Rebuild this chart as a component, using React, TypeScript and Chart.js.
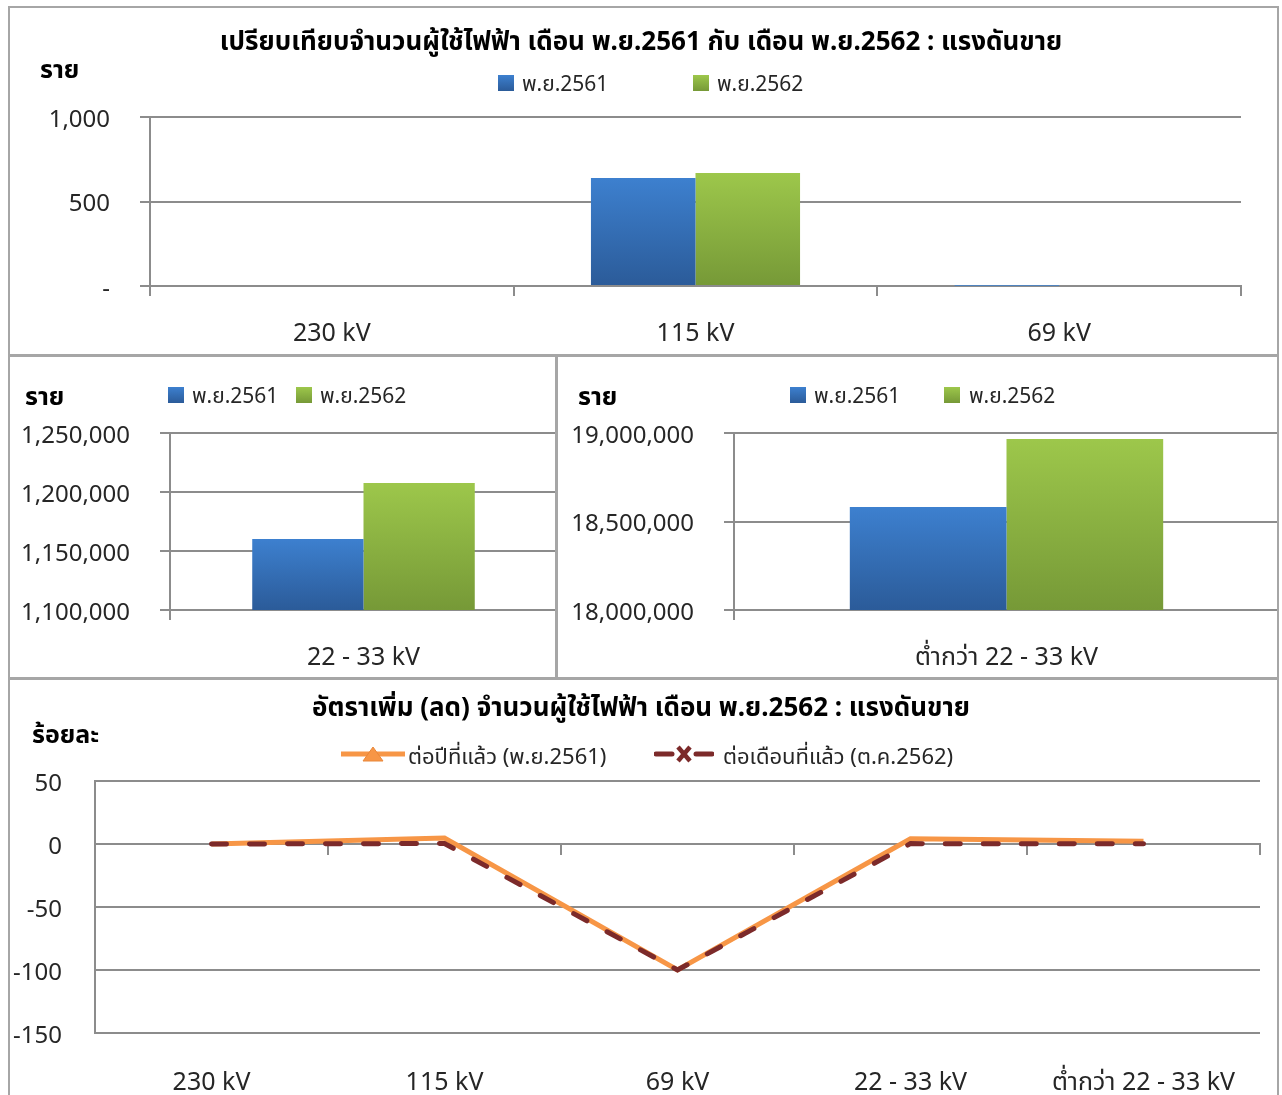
import React, { useEffect, useRef } from 'react';
import { Chart, registerables } from 'chart.js';

Chart.register(...registerables);

// ---------------- DATA ----------------
const seriesNames = ['พ.ย.2561', 'พ.ย.2562'];

const hvCategories = ['230 kV', '115 kV', '69 kV'];
const hvNov2561 = [0, 639, 1];
const hvNov2562 = [0, 669, 0];

const mvCategories = ['22 - 33 kV'];
const mvNov2561 = [1160200];
const mvNov2562 = [1207600];

const lvCategories = ['ต่ำกว่า 22 - 33 kV'];
const lvNov2561 = [18582000];
const lvNov2562 = [18966000];

const growthCategories = ['230 kV', '115 kV', '69 kV', '22 - 33 kV', 'ต่ำกว่า 22 - 33 kV'];
const growthNames = ['ต่อปีที่แล้ว (พ.ย.2561)', 'ต่อเดือนที่แล้ว (ต.ค.2562)'];
const growthYoY = [0, 4.7, -100, 4.1, 2.1];
const growthMoM = [0, 0.4, -100, 0.3, 0.2];

const titleTop = 'เปรียบเทียบจำนวนผู้ใช้ไฟฟ้า เดือน พ.ย.2561 กับ เดือน พ.ย.2562 : แรงดันขาย';
const titleBottom = 'อัตราเพิ่ม (ลด) จำนวนผู้ใช้ไฟฟ้า เดือน พ.ย.2562 : แรงดันขาย';
const unitCount = 'ราย';
const unitPercent = 'ร้อยละ';

// ---------------- STYLE ----------------
const FONT = "'Noto Sans', 'Noto Sans Thai', sans-serif";
const TEXT = '#262626';
const GRID = '#8c8c8c';
const BORDER = '#a6a6a6';
const BLUE_TOP = '#3d80cf';
const BLUE_BOTTOM = '#2b5b99';
const GREEN_TOP = '#9dc74b';
const GREEN_BOTTOM = '#769937';
const ORANGE = '#f79646';
const DARKRED = '#7c2a2a';
const Y_SIZE = 24;
const X_SIZE = 25;

type Region = { left: number; top: number; width: number; height: number };
type Area = { left: number; top: number; right: number; bottom: number };

function barGradient(top: string, bottom: string) {
  return (ctx: any) => {
    const chart = ctx.chart;
    const y = chart.scales && chart.scales.y;
    if (!y || ctx.type !== 'data' || typeof ctx.raw !== 'number') return top;
    const y0 = y.getPixelForValue(ctx.raw);
    const y1 = y.getBasePixel();
    if (!isFinite(y0) || !isFinite(y1) || Math.abs(y1 - y0) < 1) return top;
    const g = chart.ctx.createLinearGradient(0, y0, 0, y1);
    g.addColorStop(0, top);
    g.addColorStop(1, bottom);
    return g;
  };
}

function fmtThousands(v: number) {
  if (v === 0) return '-';
  return Math.round(v).toLocaleString('en-US');
}

function barConfig(
  region: Region,
  area: Area,
  labels: string[],
  s1: number[],
  s2: number[],
  yMin: number,
  yMax: number,
  step: number
): any {
  const padTop = area.top - region.top;
  const yWidth = area.left - region.left;
  const padRight = region.left + region.width - area.right;
  const xHeight = region.top + region.height - area.bottom;
  return {
    type: 'bar',
    data: {
      labels,
      datasets: [
        {
          label: seriesNames[0],
          data: s1,
          backgroundColor: barGradient(BLUE_TOP, BLUE_BOTTOM),
          categoryPercentage: 0.575,
          barPercentage: 1,
        },
        {
          label: seriesNames[1],
          data: s2,
          backgroundColor: barGradient(GREEN_TOP, GREEN_BOTTOM),
          categoryPercentage: 0.575,
          barPercentage: 1,
        },
      ],
    },
    options: {
      responsive: false,
      animation: false,
      events: [],
      layout: { padding: { top: padTop, right: padRight, bottom: 0, left: 0 } },
      plugins: { legend: { display: false }, title: { display: false }, tooltip: { enabled: false } },
      scales: {
        x: {
          offset: true,
          grid: { offset: true, drawOnChartArea: false, drawTicks: true, tickLength: 10, color: GRID, lineWidth: 2 },
          border: { color: GRID, width: 2 },
          ticks: { font: { family: FONT, size: X_SIZE }, color: TEXT, padding: 23, maxRotation: 0, autoSkip: false },
          afterFit: (s: any) => {
            s.height = xHeight;
          },
        },
        y: {
          min: yMin,
          max: yMax,
          ticks: {
            stepSize: step,
            font: { family: FONT, size: Y_SIZE },
            color: TEXT,
            padding: 30,
            labelOffset: 3,
            callback: (v: any) => fmtThousands(Number(v)),
          },
          grid: { color: GRID, lineWidth: 2, tickLength: 10 },
          border: { color: GRID, width: 2 },
          afterFit: (s: any) => {
            s.width = yWidth;
          },
        },
      },
    },
  };
}

function lineConfig(region: Region, area: Area): any {
  const padTop = area.top - region.top;
  const yWidth = area.left - region.left;
  const padRight = region.left + region.width - area.right;
  const xHeight = region.top + region.height - area.bottom;
  return {
    type: 'line',
    data: {
      labels: growthCategories,
      datasets: [
        {
          label: growthNames[0],
          data: growthYoY,
          borderColor: ORANGE,
          backgroundColor: ORANGE,
          borderWidth: 5,
          pointRadius: 0,
          tension: 0,
          order: 1,
          xAxisID: 'x',
        },
        {
          label: growthNames[1],
          data: growthMoM,
          borderColor: DARKRED,
          backgroundColor: DARKRED,
          borderWidth: 5,
          borderDash: [15, 23],
          borderCapStyle: 'round',
          pointRadius: 0,
          tension: 0,
          order: 0,
          xAxisID: 'x',
        },
      ],
    },
    options: {
      responsive: false,
      animation: false,
      events: [],
      layout: { padding: { top: padTop, right: padRight, bottom: 0, left: 0 } },
      plugins: { legend: { display: false }, title: { display: false }, tooltip: { enabled: false } },
      scales: {
        x: {
          offset: true,
          grid: { display: false },
          border: { display: false },
          ticks: { font: { family: FONT, size: X_SIZE }, color: TEXT, padding: 27, maxRotation: 0, autoSkip: false },
          afterFit: (s: any) => {
            s.height = xHeight;
          },
        },
        x2: {
          type: 'category',
          position: { y: 0 },
          offset: true,
          grid: { offset: true, drawOnChartArea: false, tickLength: 10, color: GRID, lineWidth: 2 },
          border: { color: GRID, width: 2 },
          ticks: { display: false },
          afterFit: (s: any) => {
            s.height = 0;
          },
        },
        y: {
          min: -150,
          max: 50,
          ticks: { stepSize: 50, font: { family: FONT, size: Y_SIZE }, color: TEXT, padding: 33, labelOffset: 3 },
          grid: { color: GRID, lineWidth: 2, drawTicks: false },
          border: { color: GRID, width: 2 },
          afterFit: (s: any) => {
            s.width = yWidth;
          },
        },
      },
    },
  };
}

function ChartCanvas({ region, config }: { region: Region; config: () => any }) {
  const ref = useRef<HTMLCanvasElement | null>(null);
  useEffect(() => {
    if (!ref.current) return;
    const chart = new Chart(ref.current, config());
    return () => chart.destroy();
  }, []);
  return (
    <canvas
      ref={ref}
      width={region.width}
      height={region.height}
      style={{ position: 'absolute', left: region.left, top: region.top, width: region.width, height: region.height }}
    />
  );
}

function Text({
  x,
  y,
  children,
  center,
  size,
  bold,
}: {
  x: number;
  y: number;
  children: React.ReactNode;
  center?: boolean;
  size: number;
  bold?: boolean;
}) {
  return (
    <div
      style={{
        position: 'absolute',
        left: x,
        top: y,
        transform: center ? 'translate(-50%, -50%)' : 'translate(0, -50%)',
        whiteSpace: 'nowrap',
        fontFamily: FONT,
        fontSize: size,
        fontWeight: bold ? 700 : 400,
        color: bold ? '#000' : TEXT,
        lineHeight: 1.2,
      }}
    >
      {children}
    </div>
  );
}

function Swatch({ x, y, top, bottom }: { x: number; y: number; top: string; bottom: string }) {
  return (
    <div
      style={{
        position: 'absolute',
        left: x,
        top: y - 8,
        width: 16,
        height: 16,
        background: `linear-gradient(${top}, ${bottom})`,
      }}
    />
  );
}

function BarLegend({ y, items }: { y: number; items: { box: number; text: number }[] }) {
  return (
    <>
      <Swatch x={items[0].box} y={y} top={BLUE_TOP} bottom={BLUE_BOTTOM} />
      <Text x={items[0].text} y={y + 1} size={21}>
        {seriesNames[0]}
      </Text>
      <Swatch x={items[1].box} y={y} top={GREEN_TOP} bottom={GREEN_BOTTOM} />
      <Text x={items[1].text} y={y + 1} size={21}>
        {seriesNames[1]}
      </Text>
    </>
  );
}

function Panel({ l, t, r, b }: { l: number; t: number; r: number; b: number }) {
  return (
    <div
      style={{
        position: 'absolute',
        left: l,
        top: t,
        width: r - l,
        height: b - t,
        border: `2px solid ${BORDER}`,
        boxSizing: 'border-box',
        pointerEvents: 'none',
      }}
    />
  );
}

const R1: Region = { left: 8, top: 6, width: 1271, height: 349 };
const A1: Area = { left: 150, top: 117, right: 1241, bottom: 286 };
const R2: Region = { left: 8, top: 355, width: 549, height: 323 };
const A2: Area = { left: 170, top: 433, right: 557, bottom: 610 };
const R3: Region = { left: 557, top: 355, width: 722, height: 323 };
const A3: Area = { left: 734, top: 433, right: 1279, bottom: 610 };
const R4: Region = { left: 8, top: 678, width: 1271, height: 417 };
const A4: Area = { left: 95, top: 781, right: 1260, bottom: 1033 };

export default function App() {
  return (
    <div style={{ position: 'absolute', left: 0, top: 0, width: 1282, height: 1095, overflow: 'hidden', background: '#fff' }}>
      <ChartCanvas region={R1} config={() => barConfig(R1, A1, hvCategories, hvNov2561, hvNov2562, 0, 1000, 500)} />
      <ChartCanvas
        region={R2}
        config={() => barConfig(R2, A2, mvCategories, mvNov2561, mvNov2562, 1100000, 1250000, 50000)}
      />
      <ChartCanvas
        region={R3}
        config={() => barConfig(R3, A3, lvCategories, lvNov2561, lvNov2562, 18000000, 19000000, 500000)}
      />
      <ChartCanvas region={R4} config={() => lineConfig(R4, A4)} />

      {/* top chart texts */}
      <Text x={641} y={41} center size={26} bold>
        {titleTop}
      </Text>
      <Text x={40} y={68} size={25} bold>
        {unitCount}
      </Text>
      <BarLegend y={83} items={[{ box: 498, text: 522 }, { box: 693, text: 717 }]} />

      {/* middle left */}
      <Text x={25} y={395} size={25} bold>
        {unitCount}
      </Text>
      <BarLegend y={395} items={[{ box: 168, text: 192 }, { box: 296, text: 320 }]} />

      {/* middle right */}
      <Text x={578} y={395} size={25} bold>
        {unitCount}
      </Text>
      <BarLegend y={395} items={[{ box: 790, text: 814 }, { box: 944, text: 969 }]} />

      {/* bottom chart texts */}
      <Text x={641} y={707} center size={26} bold>
        {titleBottom}
      </Text>
      <Text x={32} y={733} size={25} bold>
        {unitPercent}
      </Text>
      <svg style={{ position: 'absolute', left: 340, top: 744 }} width={66} height={20}>
        <line x1={1} y1={10} x2={65} y2={10} stroke={ORANGE} strokeWidth={5} />
        <polygon points="23,17 33,3 43,17" fill={ORANGE} stroke="#e8873a" strokeWidth={1} />
      </svg>
      <Text x={408} y={755} size={22}>
        {growthNames[0]}
      </Text>
      <svg style={{ position: 'absolute', left: 654, top: 744 }} width={60} height={20}>
        <line x1={2} y1={10} x2={18} y2={10} stroke={DARKRED} strokeWidth={5} strokeLinecap="round" />
        <line x1={42} y1={10} x2={58} y2={10} stroke={DARKRED} strokeWidth={5} strokeLinecap="round" />
        <line x1={24} y1={3} x2={36} y2={17} stroke={DARKRED} strokeWidth={4.5} />
        <line x1={36} y1={3} x2={24} y2={17} stroke={DARKRED} strokeWidth={4.5} />
      </svg>
      <Text x={723} y={755} size={22}>
        {growthNames[1]}
      </Text>

      <Panel l={8} t={6} r={1279} b={356} />
      <Panel l={8} t={355} r={557} b={679} />
      <Panel l={556} t={355} r={1279} b={679} />
      <Panel l={8} t={678} r={1279} b={1110} />
    </div>
  );
}
